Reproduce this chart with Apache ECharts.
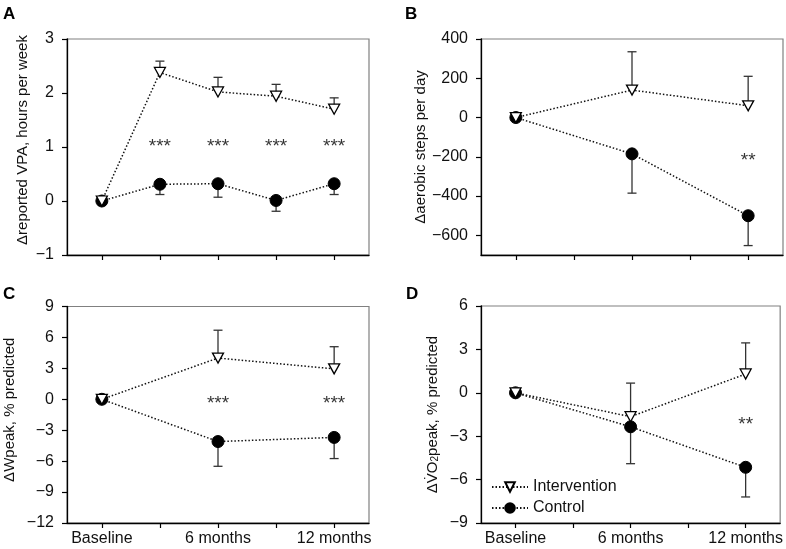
<!DOCTYPE html>
<html>
<head>
<meta charset="utf-8">
<script src="https://cdn.jsdelivr.net/npm/echarts@6/dist/echarts.min.js"></script>
<style>html,body{margin:0;padding:0;background:#fff}#c{width:786px;height:549px}</style>
</head>
<body>
<div id="c"></div>
<script>
// ---- data ----
const tickMonths = [0, 3, 6, 9, 12];
const labelMonths = [0, 6, 12];
const labelNames = ['Baseline', '6 months', '12 months'];

// Panel A: reported VPA (hours per week)
const monthsA = [0, 3, 6, 9, 12];
const interA = [0, 2.38, 2.02, 1.94, 1.70];
const interAErr = [null, 2.59, 2.29, 2.16, 1.91];
const ctrlA = [0, 0.31, 0.32, 0.01, 0.32];
const ctrlAErr = [null, 0.12, 0.07, -0.19, 0.12];
const starsAx = [3, 6, 9, 12];
const starsAy = [1.0, 1.0, 1.0, 1.0];
const starsAt = ['***', '***', '***', '***'];

// Panel B: aerobic steps per day
const monthsB = [0, 6, 12];
const interB = [0, 140, 60];
const interBErr = [null, 335, 210];
const ctrlB = [0, -185, -500];
const ctrlBErr = [null, -385, -652];
const starsBx = [12];
const starsBy = [-220];
const starsBt = ['**'];

// Panel C: Wpeak, % predicted
const monthsC = [0, 6, 12];
const interC = [0, 4.0, 2.95];
const interCErr = [null, 6.7, 5.1];
const ctrlC = [0, -4.1, -3.7];
const ctrlCErr = [null, -6.5, -5.75];
const starsCx = [6, 12];
const starsCy = [-0.45, -0.45];
const starsCt = ['***', '***'];

// Panel D: VO2peak, % predicted
const monthsD = [0, 6, 12];
const interD = [0, -1.65, 1.3];
const interDErr = [null, 0.67, 3.45];
const ctrlD = [0, -2.35, -5.15];
const ctrlDErr = [null, -4.9, -7.2];
const starsDx = [12];
const starsDy = [-2.2];
const starsDt = ['**'];

const yTicksA = [-1, 0, 1, 2, 3];
const yTicksB = [-600, -400, -200, 0, 200, 400];
const yTicksC = [-12, -9, -6, -3, 0, 3, 6, 9];
const yTicksD = [-9, -6, -3, 0, 3, 6];

// ---- styling / building ----
const FONT = "'Liberation Sans', Arial, Helvetica, sans-serif";
const FS = 16;
const NFS = 15;
const chart = echarts.init(document.getElementById('c'), null, {renderer: 'canvas'});

const grids = [
  {left: 67, top: 39, width: 302, height: 216},
  {left: 481, top: 39, width: 302, height: 216},
  {left: 67, top: 306.5, width: 302, height: 216.5},
  {left: 481, top: 306, width: 302, height: 217}
].map(g => Object.assign(g, {show: true, borderColor: '#808080', borderWidth: 1.2, containLabel: false}));

const minus = v => String(v).replace('-', '\u2212');

function xAxis(i, showLabels) {
  return {
    type: 'value', gridIndex: i, min: -1.8, max: 13.8,
    splitLine: {show: false},
    axisLine: {show: true, onZero: false, lineStyle: {color: '#000', width: 1.3}},
    axisTick: {show: true, length: 5, lineStyle: {color: '#000', width: 1.2}, customValues: tickMonths},
    axisLabel: {
      show: showLabels, customValues: labelMonths, margin: 8,
      fontFamily: FONT, fontSize: FS, color: '#111',
      formatter: v => labelNames[labelMonths.indexOf(v)] || ''
    }
  };
}
function yAxis(i, min, max, ticks, name, gap, pad, rich) {
  const o = {
    type: 'value', gridIndex: i, min: min, max: max,
    splitLine: {show: false},
    axisLine: {show: true, onZero: false, lineStyle: {color: '#000', width: 1.3}},
    axisTick: {show: true, length: 5, lineStyle: {color: '#000', width: 1.2}, customValues: ticks},
    axisLabel: {customValues: ticks, margin: 13, fontFamily: FONT, fontSize: FS, color: '#111', formatter: minus},
    name: name, nameLocation: 'middle', nameGap: gap,
    nameTextStyle: {fontFamily: FONT, fontSize: NFS, color: '#111', padding: pad}
  };
  if (rich) o.nameTextStyle.rich = rich;
  return o;
}

const richD = {
  n: {fontFamily: FONT, fontSize: NFS, color: '#111'},
  s: {fontFamily: FONT, fontSize: 10, color: '#111', verticalAlign: 'bottom', lineHeight: 14}
};

const xAxes = [xAxis(0, false), xAxis(1, false), xAxis(2, true), xAxis(3, true)];
const yAxes = [
  yAxis(0, -1, 3, yTicksA, '\u0394reported VPA, hours per week', 37, [0, 0, 0, 14]),
  yAxis(1, -700, 400, yTicksB, '\u0394aerobic steps per day', 53, [0, 0, 0, 0]),
  yAxis(2, -12, 9, yTicksC, '\u0394Wpeak, % predicted', 50, [0, 0, 0, 10]),
  yAxis(3, -9, 6, yTicksD, '{n|\u0394V\u0307O}{s|2}{n|peak, % predicted}', 41, [0, 0, 0, 0], richD)
];

const LINE = {color: '#111', width: 1.5, type: [1.5, 2]};
const series = [];
function addPanel(i, months, inter, interErr, ctrl, ctrlErr, sx, sy, st) {
  const errData = [];
  months.forEach((m, k) => {
    if (interErr[k] != null) errData.push([m, inter[k], interErr[k]]);
    if (ctrlErr[k] != null) errData.push([m, ctrl[k], ctrlErr[k]]);
  });
  series.push({
    type: 'custom', xAxisIndex: i, yAxisIndex: i, z: 1, silent: true,
    data: errData,
    renderItem: (params, api) => {
      const p = api.coord([api.value(0), api.value(1)]);
      const e = api.coord([api.value(0), api.value(2)]);
      const st = {stroke: '#333', lineWidth: 1.3};
      return {type: 'group', children: [
        {type: 'line', shape: {x1: p[0], y1: p[1], x2: e[0], y2: e[1]}, style: st},
        {type: 'line', shape: {x1: e[0] - 4.5, y1: e[1], x2: e[0] + 4.5, y2: e[1]}, style: st}
      ]};
    }
  });
  series.push({
    name: 'Control', type: 'line', xAxisIndex: i, yAxisIndex: i, z: 3,
    data: months.map((m, k) => [m, ctrl[k]]),
    symbol: 'circle', symbolSize: 12, showAllSymbol: true,
    lineStyle: LINE, itemStyle: {color: '#000', borderColor: '#000', borderWidth: 1},
    emphasis: {disabled: true}, animation: false
  });
  series.push({
    name: 'Intervention', type: 'line', xAxisIndex: i, yAxisIndex: i, z: 4,
    data: months.map((m, k) => [m, inter[k]]),
    symbol: 'triangle', symbolRotate: 180, symbolSize: [11, 10], showAllSymbol: true,
    lineStyle: LINE, itemStyle: {color: '#fff', borderColor: '#000', borderWidth: 1.3},
    emphasis: {disabled: true}, animation: false
  });
  series.push({
    type: 'scatter', xAxisIndex: i, yAxisIndex: i, z: 5, silent: true,
    symbolSize: 0,
    data: sx.map((x, k) => ({value: [x, sy[k]], label: {formatter: st[k]}})),
    label: {show: true, position: 'inside', fontFamily: FONT, fontSize: 19, color: '#000'}
  });
}
addPanel(0, monthsA, interA, interAErr, ctrlA, ctrlAErr, starsAx, starsAy, starsAt);
addPanel(1, monthsB, interB, interBErr, ctrlB, ctrlBErr, starsBx, starsBy, starsBt);
addPanel(2, monthsC, interC, interCErr, ctrlC, ctrlCErr, starsCx, starsCy, starsCt);
addPanel(3, monthsD, interD, interDErr, ctrlD, ctrlDErr, starsDx, starsDy, starsDt);

const letterStyle = {fontFamily: FONT, fontSize: 17, fontWeight: 'bold', color: '#000'};
chart.setOption({
  animation: false,
  backgroundColor: '#fff',
  title: [
    {text: 'A', left: 1, top: 4, textStyle: letterStyle, padding: 2},
    {text: 'B', left: 403, top: 4, textStyle: letterStyle, padding: 2},
    {text: 'C', left: 1, top: 284, textStyle: letterStyle, padding: 2},
    {text: 'D', left: 404, top: 284, textStyle: letterStyle, padding: 2}
  ],
  legend: {
    data: ['Intervention', 'Control'], orient: 'vertical', left: 491, top: 479,
    itemWidth: 36, itemHeight: 12, itemGap: 5, padding: 0,
    textStyle: {fontFamily: FONT, fontSize: FS, color: '#111'},
    selectedMode: false
  },
  grid: grids,
  xAxis: xAxes,
  yAxis: yAxes,
  series: series
});
</script>
</body>
</html>
